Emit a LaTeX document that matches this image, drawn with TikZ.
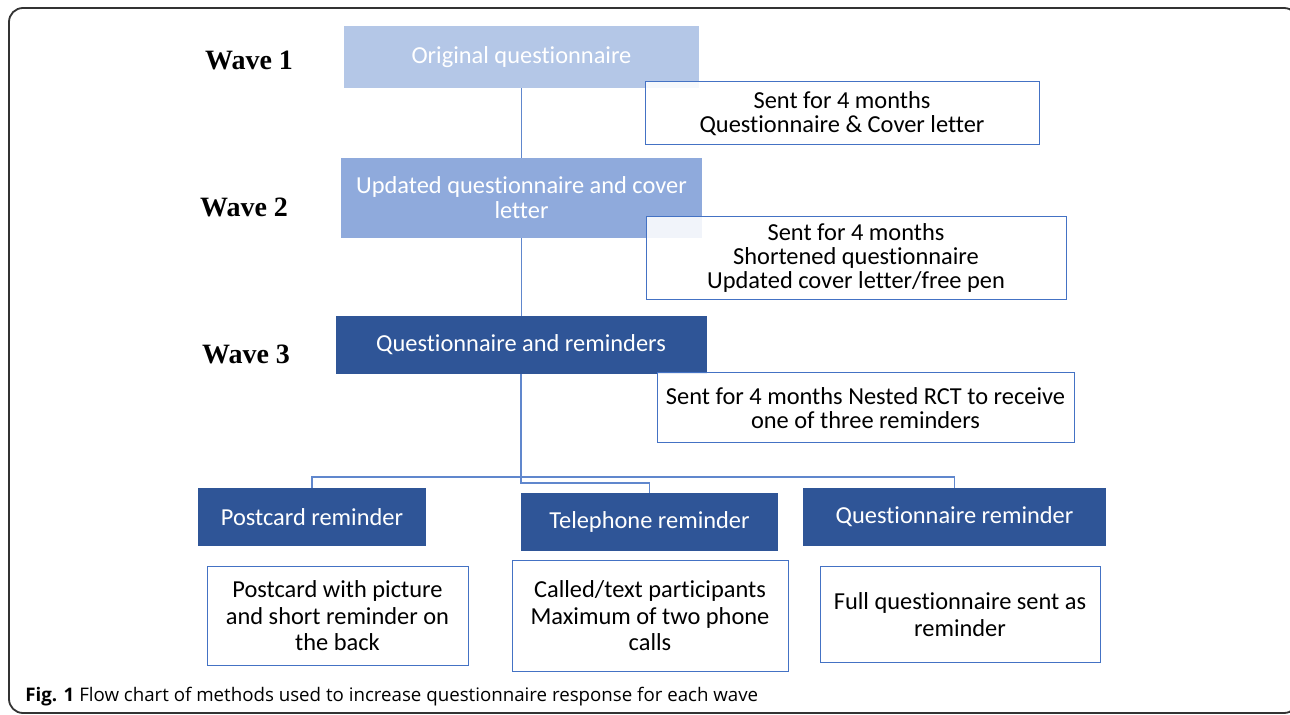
\documentclass[tikz,border=0pt]{standalone}
\usepackage{fontspec}
\setmainfont{Carlito}[Ligatures=NoCommon]
\newfontfamily\wavefont{Liberation Serif}
\newfontfamily\capfont{Open Sans}
\usepackage{tikz}
\usetikzlibrary{positioning,calc}

\definecolor{paleblue}{HTML}{B4C7E7}
\definecolor{midblue}{HTML}{8FAADC}
\definecolor{darkblue}{HTML}{2F5597}
\definecolor{edgeblue}{HTML}{4472C4}

\begin{document}
\begin{tikzpicture}[x=0.5pt,y=-0.5pt,
         wavebox/.style = {inner sep=2pt, align=center, text=white,
         font=\fontsize{12.2}{12.6}\selectfont},
         notebox/.style = {draw=edgeblue, line width=0.5pt, fill=white,
         fill opacity=0.88, text opacity=1, align=center,
         font=\fontsize{12.2}{12.2}\selectfont},
         reminderbox/.style = {notebox, font=\fontsize{12.2}{13.2}\selectfont},
         wavelabel/.style = {font=\wavefont\bfseries\fontsize{14}{16}\selectfont},
         link/.style = {draw=edgeblue!85, line width=0.6pt}
]

      \useasboundingbox (0,0) rectangle (1290,715);

      % outer frame
      \draw[black!80, line width=0.9pt, rounded corners=7pt]
      (9,8) rectangle (1298,713);

      % waves
      \node[wavebox, fill=paleblue, minimum width=177.5pt, minimum height=31pt]
      (orig) at (521.5,57) {Original questionnaire};
      \node[wavebox, fill=midblue, minimum width=180.5pt, minimum height=40pt]
      (upd) at (521.5,198) {Updated questionnaire and cover\\letter};
      \node[wavebox, fill=darkblue, minimum width=185.5pt, minimum height=29pt]
      (qrem) at (521,345) {Questionnaire and reminders};

      \node[wavelabel] (w1) at (249,60)  {Wave 1};
      \node[wavelabel] (w2) at (244,207) {Wave 2};
      \node[wavelabel] (w3) at (246,354) {Wave 3};

      % reminder arms
      \node[wavebox, fill=darkblue, minimum width=114pt, minimum height=29pt]
      (post) at (312,517) {Postcard reminder};
      \node[wavebox, fill=darkblue, minimum width=128.5pt, minimum height=29pt]
      (tel) at (649.5,522) {Telephone reminder};
      \node[wavebox, fill=darkblue, minimum width=151.5pt, minimum height=29pt]
      (qrm) at (954.5,517) {Questionnaire reminder};

      % split of the trunk
      \coordinate (split) at (521,477);
      \coordinate (jog)   at (521,483);

      \draw[link] (orig.south) -- (upd.north);
      \draw[link] (upd.south) -- (upd.south |- qrem.north);
      \draw[link] (qrem.south) -- (jog) -| (tel.north);
      \draw[link] (post.north) |- (split) -| (qrm.north);

      % notes
      \node[notebox, minimum width=197pt, minimum height=31.5pt]
      (sent1) at (842,113.5) {Sent for 4 months\\Questionnaire \& Cover letter};
      \node[notebox, minimum width=210pt, minimum height=41pt]
      (sent2) at (856,258) {Sent for 4 months\\Shortened questionnaire\\Updated cover letter/free pen};
      \node[notebox, minimum width=208.5pt, minimum height=35pt]
      (sent3) at (865.5,408) {Sent for 4 months Nested RCT to receive\\one of three reminders};

      \node[reminderbox, minimum width=130.5pt, minimum height=49pt]
      (posttxt) at (337.5,616) {Postcard with picture\\and short reminder on\\the back};
      \node[reminderbox, minimum width=138pt, minimum height=55pt]
      (teltxt) at (650,616) {Called/text participants\\Maximum of two phone\\calls};
      \node[reminderbox, minimum width=140pt, minimum height=47.5pt]
      (fulltxt) at (960,614.5) {Full questionnaire sent as\\reminder};

      % caption
      \node[anchor=west, inner sep=0pt, font=\capfont\fontsize{9.35}{11}\selectfont]
      (cap) at (25,697) {\textbf{Fig. 1} Flow chart of methods used to increase questionnaire response for each wave};

\end{tikzpicture}
\end{document}
